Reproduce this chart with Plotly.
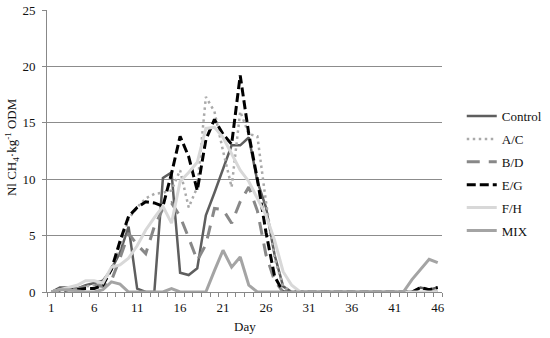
import plotly.graph_objects as go

days = list(range(1, 47))
zeros = lambda n: [0] * n

control = [0, 0.4, 0.4, 0.3, 0.6, 0.8, 1.0, 2.0, 3.5, 5.8, 0.3, 0, 0, 10.1, 10.6, 1.7, 1.5, 2.1, 6.8, 8.8,
           11.0, 13.0, 13.0, 13.7, 9.8, 7.5, 3.3, 0.5] + zeros(15) + [0.4, 0.2, 0.4]
ac = [0, 0.2, 0.3, 0.3, 0.5, 0.6, 0.8, 2.0, 4.0, 6.5, 7.5, 8.3, 8.7, 8.8, 9.0, 10.8, 7.5, 9.3, 17.3, 16.0,
      12.5, 9.3, 16.0, 14.0, 13.8, 8.0, 3.0, 0.5] + zeros(18)
bd = [0, 0.2, 0.3, 0.3, 0.5, 0.6, 0.5, 1.0, 3.0, 5.2, 4.2, 3.4, 5.8, 7.4, 7.9, 6.7, 4.8, 2.8, 4.2, 7.4,
      7.3, 6.1, 8.0, 9.3, 7.2, 3.3, 1.0, 0] + zeros(18)
eg = [0, 0.1, 0.2, 0.2, 0.3, 0.3, 0.6, 2.0, 4.5, 6.7, 7.5, 8.0, 7.9, 7.6, 10.5, 13.8, 12.0, 9.0, 13.5, 15.3,
      14.0, 13.1, 19.2, 14.0, 10.0, 5.3, 1.4, 0] + zeros(15) + [0.4, 0.2, 0.4]
fh = [0, 0.2, 0.4, 0.6, 1.0, 1.0, 0.8, 2.2, 2.4, 3.0, 4.1, 5.5, 6.6, 7.6, 6.1, 9.8, 10.6, 11.5, 14.5, 14.6,
      13.7, 12.3, 10.8, 9.8, 8.3, 6.8, 4.6, 1.8, 0.6, 0] + zeros(16)
mix = [0, 0.2, 0.2, 0.1, 0, 0, 0.2, 0.9, 0.7, 0, 0, 0, 0, 0, 0.3, 0, 0, 0, 0, 1.9,
       3.7, 2.2, 3.1, 0.6, 0] + zeros(17) + [1.1, 2.0, 2.9, 2.6]

series_names = ["Control", "A/C", "B/D", "E/G", "F/H", "MIX"]
series_values = [control, ac, bd, eg, fh, mix]
tick_days = [1, 6, 11, 16, 21, 26, 31, 36, 41, 46]

styles = [
    dict(color="#5e5e5e", width=2.5, dash="solid"),
    dict(color="#aaaaaa", width=2.5, dash="2.5px,3.5px"),
    dict(color="#888888", width=3, dash="13px,9px"),
    dict(color="#000000", width=3, dash="9px,4px"),
    dict(color="#d8d8d8", width=3, dash="solid"),
    dict(color="#a4a4a4", width=3, dash="solid"),
]

FONT = "Liberation Serif, Times New Roman, serif"
TXT = "#111111"
fig = go.Figure()
for i, (name, vals) in enumerate(zip(series_names, series_values)):
    fig.add_trace(go.Scatter(x=days, y=vals, name=name, mode="lines",
                             line=styles[i], legendgroup=name))

fig.update_layout(
    width=550, height=338,
    margin=dict(l=47, r=108, t=10, b=46, autoexpand=False),
    paper_bgcolor="white", plot_bgcolor="white",
    font=dict(family=FONT, size=13, color=TXT),
    showlegend=True,
    legend=dict(x=1.05, y=0.42, xanchor="left", yanchor="middle",
                font=dict(family=FONT, size=13, color=TXT),
                itemwidth=30, tracegroupgap=3, traceorder="grouped",
                bgcolor="rgba(0,0,0,0)"),
)
fig.update_xaxes(
    range=[0.5, 46.5], tickmode="array", tickvals=tick_days,
    ticktext=[str(d) for d in tick_days], ticks="", showgrid=False,
    showline=True, linecolor="#888888", linewidth=1, zeroline=False,
    minor=dict(ticks="outside", tick0=0.5, dtick=1, ticklen=4, tickcolor="#888888", showgrid=False),
    ticklabelstandoff=3, automargin=False,
    tickfont=dict(family=FONT, size=13, color=TXT),
)
fig.update_yaxes(
    range=[0, 25], tickmode="array", tickvals=[0, 5, 10, 15, 20, 25],
    ticks="outside", ticklen=4, tickcolor="#888888",
    showgrid=True, gridcolor="#8c8c8c", gridwidth=1,
    showline=True, linecolor="#888888", linewidth=1, zeroline=False,
    ticklabelstandoff=4, automargin=False,
    tickfont=dict(family=FONT, size=13, color=TXT),
)
fig.add_annotation(
    text="Nl CH<sub>4</sub>·kg<sup>-1</sup> ODM", textangle=-90,
    xref="paper", yref="paper", x=-0.0886, y=0.514, xanchor="center", yanchor="middle",
    showarrow=False, font=dict(family=FONT, size=13, color=TXT),
)
fig.add_annotation(
    text="Day", xref="paper", yref="paper", x=0.5, y=-0.124,
    xanchor="center", yanchor="middle", showarrow=False,
    font=dict(family=FONT, size=13, color=TXT),
)

fig.write_html("out.html", config={"displayModeBar": False},
               post_script="document.body.style.margin='0px';")
